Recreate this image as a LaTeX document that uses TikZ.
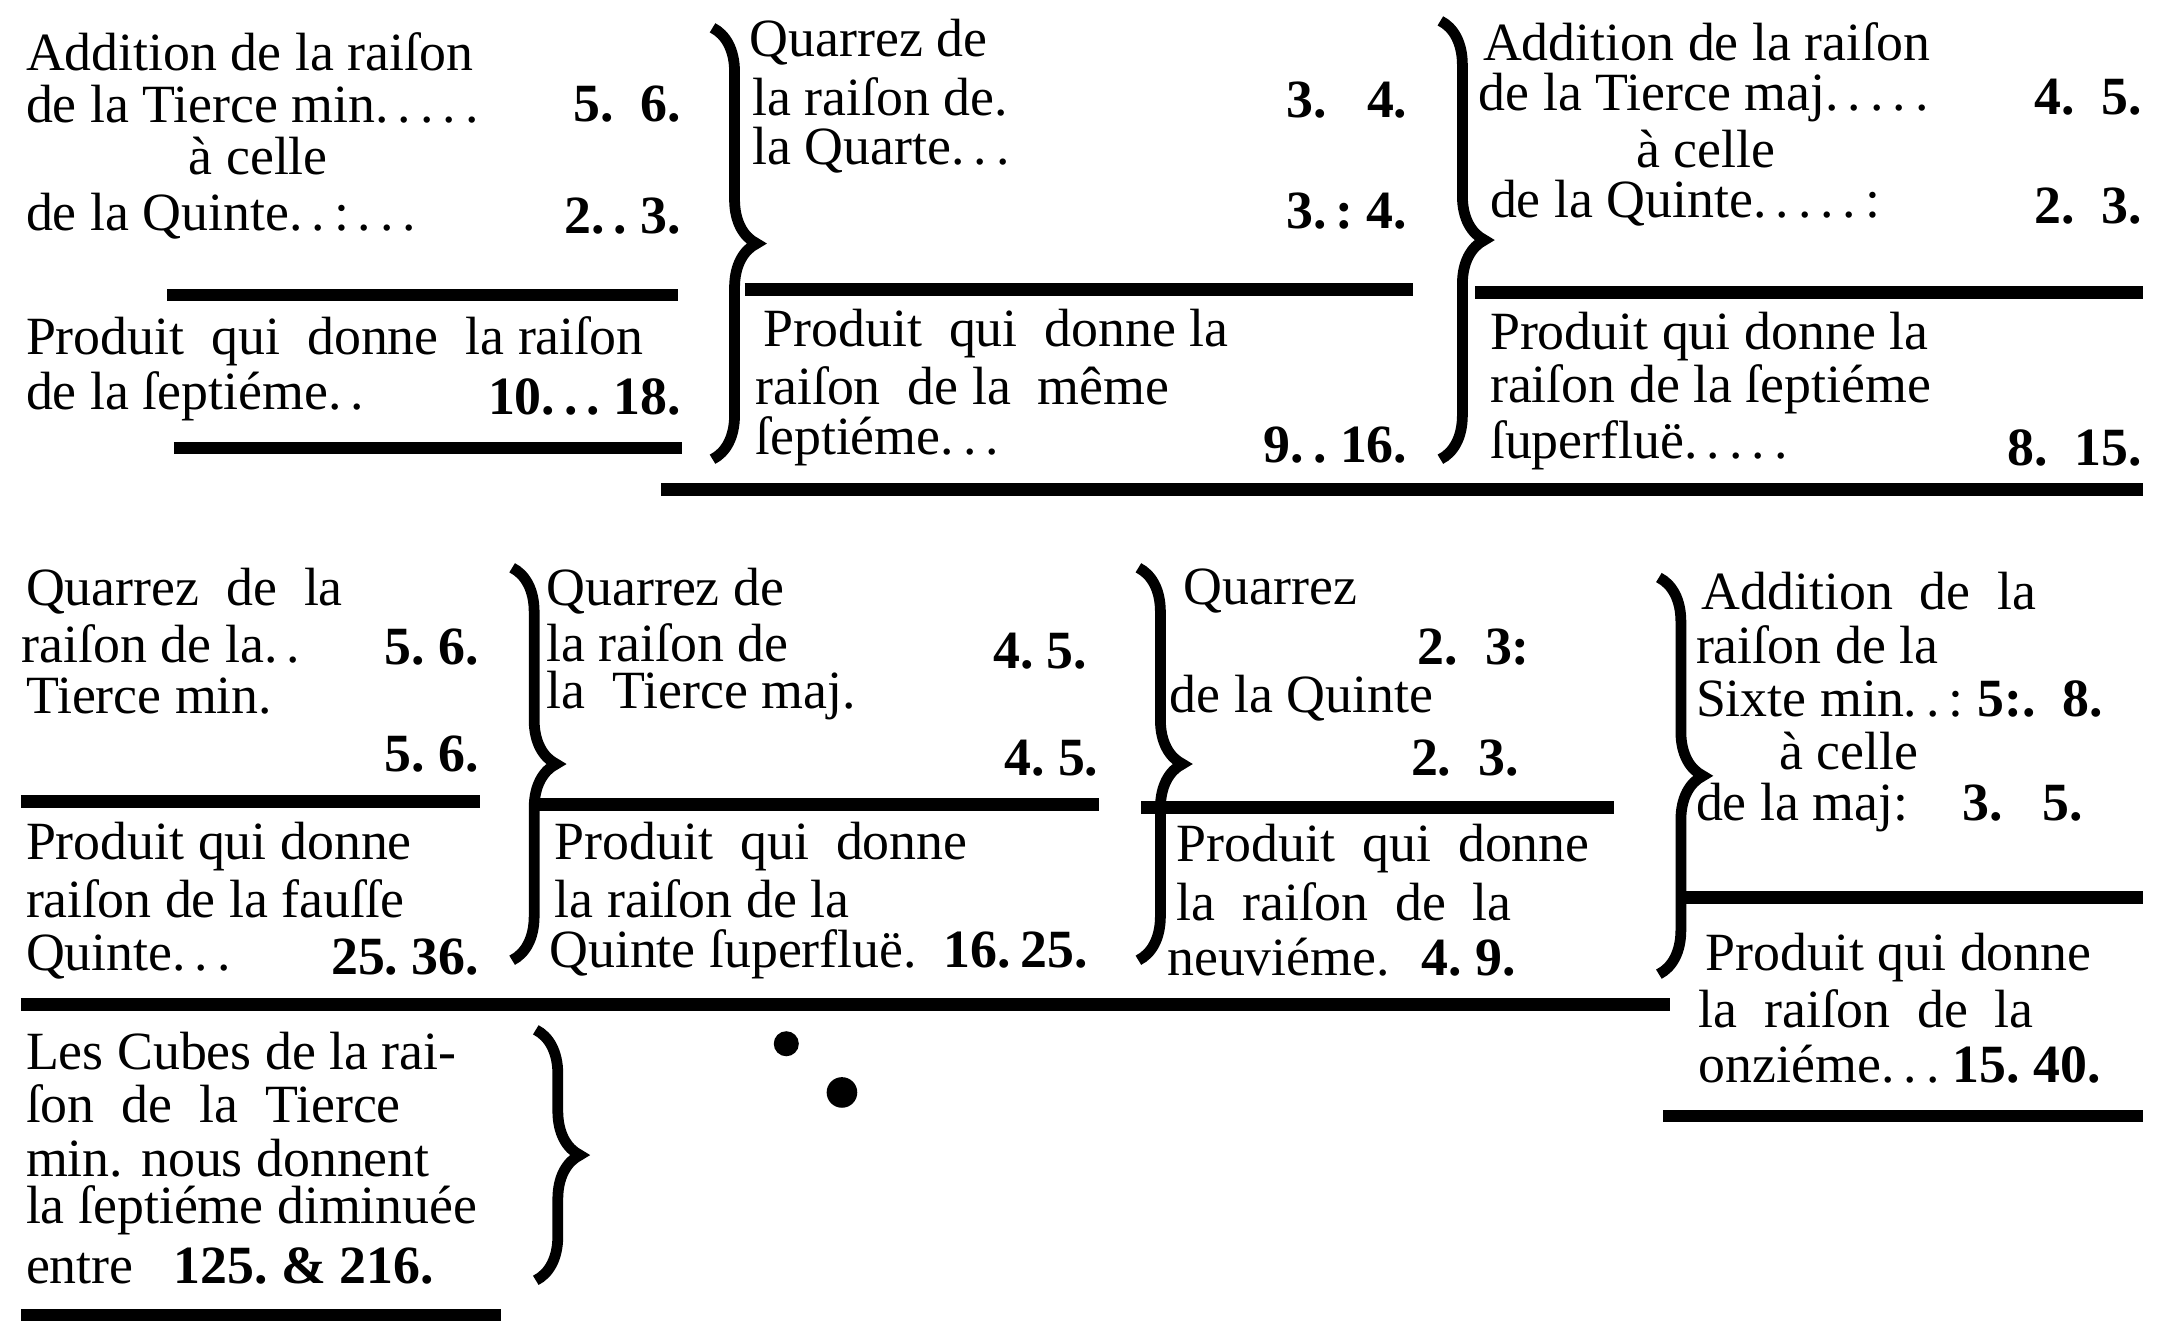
\documentclass[tikz,border=0pt]{standalone}
\usepackage{fontspec}
\setmainfont{Liberation Serif}
\usetikzlibrary{decorations.pathreplacing}

\begin{document}
\begin{tikzpicture}[x=0.01cm, y=-0.01cm,
    txt/.style={anchor=west, inner sep=0pt, font=\fontsize{11}{12}\selectfont},
    num/.style={anchor=east, inner sep=0pt, font=\fontsize{11}{12}\selectfont\bfseries},
    rule/.style={line width=2.6pt, black},
    curly/.style={line width=2.2pt, decorate, decoration={brace, amplitude=9pt}}]
    \useasboundingbox (0,0) rectangle (1560,961);
    % first row, left block: Tierce min. + Quinte
    \node[txt] (a1) at (18,37)  {Addition de la raiſon};
    \node[txt] (a2) at (18,75)  {de la Tierce min.\,.\,.\,.\,.};
    \node[num] (a2n) at (490,75) {5.\ \ 6.};
    \node[txt] (a3) at (135,112) {à celle};
    \node[txt] (a4) at (18,155) {de la Quinte.\,.\,:\,.\,.\,.};
    \node[num] (a4n) at (490,155) {2.\,.\ 3.};
    \draw[rule] (120,212) -- (487,212);
    \node[txt] (a5) at (18,245) {Produit \ qui \ donne \ la raiſon};
    \node[txt] (a6) at (18,285) {de la ſeptiéme.\,.};
    \node[num] (a6n) at (490,285) {10.\,.\,.\ 18.};
    \draw[rule] (125,322) -- (490,322);
    \draw[curly] (512,20) -- (512,330);
    % first row, middle block: Quarrez de la Quarte
    \node[txt] (b1) at (538,30)  {Quarrez de};
    \node[txt] (b2) at (540,70)  {la raiſon de.};
    \node[num] (b2n) at (1012,72) {3.\ \ \ 4.};
    \node[txt] (b3) at (540,108) {la Quarte.\,.\,.};
    \node[num] (b4n) at (1012,152) {3.\,:\ 4.};
    \draw[rule] (535,208) -- (1015,208);
    \node[txt] (b5) at (548,240) {Produit \ qui \ donne la};
    \node[txt] (b6) at (542,277) {raiſon \ de la \ même};
    \node[txt] (b7) at (542,317) {ſeptiéme.\,.\,.};
    \node[num] (b7n) at (1012,320) {9.\,.\ 16.};
    \draw[rule] (475,352) -- (1540,352);
    \draw[curly] (1035,15) -- (1035,330);
    % first row, right block: Tierce maj. + Quinte
    \node[txt] (c1) at (1065,30)  {Addition de la raiſon};
    \node[txt] (c2) at (1062,70)  {de la Tierce maj.\,.\,.\,.\,.};
    \node[num] (c2n) at (1540,70) {4.\ \ 5.};
    \node[txt] (c3) at (1175,107) {à celle};
    \node[txt] (c4) at (1070,146) {de la Quinte.\,.\,.\,.\,.\,:};
    \node[num] (c4n) at (1540,148) {2.\ \ 3.};
    \draw[rule] (1060,210) -- (1540,210);
    \node[txt] (c5) at (1070,242) {Produit qui donne la};
    \node[txt] (c6) at (1070,280) {raiſon de la ſeptiéme};
    \node[txt] (c7) at (1070,320) {ſuperfluë.\,.\,.\,.\,.};
    \node[num] (c7n) at (1540,322) {8.\ \ 15.};
    % second row: Quarrez de la Tierce min.
    \node[txt] (d1) at (18,425) {Quarrez \ de \ la};
    \node[txt] (d2) at (15,463) {raiſon de la.\,.};
    \node[num] (d2n) at (345,465) {5.\ 6.};
    \node[txt] (d3) at (18,500) {Tierce min.};
    \node[num] (d4n) at (345,542) {5.\ 6.};
    \draw[rule] (15,576) -- (345,576);
    \node[txt] (d5) at (18,608) {Produit qui donne};
    \node[txt] (d6) at (18,646) {raiſon de la fauſſe};
    \node[txt] (d7) at (18,688) {Quinte.\,.\,.};
    \node[num] (d7n) at (345,688) {25.\ 36.};
    \draw[rule] (15,722) -- (1200,722);
    \draw[curly] (368,408) -- (368,690);
    % Quarrez de la Tierce maj.
    \node[txt] (e1) at (392,425) {Quarrez de};
    \node[txt] (e2) at (392,462) {la raiſon de};
    \node[num] (e2n) at (782,468) {4.\ 5.};
    \node[txt] (e3) at (392,500) {la \ Tierce maj.};
    \node[num] (e4n) at (790,545) {4.\ 5.};
    \draw[rule] (385,578) -- (790,578);
    \node[txt] (e5) at (398,608) {Produit \ qui \ donne};
    \node[txt] (e6) at (398,646) {la raiſon de la};
    \node[txt] (e7) at (394,686) {Quinte ſuperfluë.\ \ \textbf{16.\,25.}};
    \draw[curly] (818,408) -- (818,690);
    % Quarrez de la Quinte
    \node[txt] (f1) at (850,425) {Quarrez};
    \node[num] (f2n) at (1100,465) {2.\ \ 3:};
    \node[txt] (f3) at (840,502) {de la Quinte};
    \node[num] (f4n) at (1092,545) {2.\ \ 3.};
    \draw[rule] (820,580) -- (1160,580);
    \node[txt] (f5) at (845,610) {Produit \ qui \ donne};
    \node[txt] (f6) at (845,648) {la \ raiſon \ de \ la};
    \node[txt] (f7) at (838,688) {neuviéme. \ \textbf{4.\ 9.}};
    \draw[curly] (1192,415) -- (1192,700);
    % Sixte min. + Sixte maj.
    \node[txt] (g1) at (1222,425) {Addition \ de \ la};
    \node[txt] (g2) at (1218,463) {raiſon de la};
    \node[txt] (g3) at (1218,502) {Sixte min.\,.\,:\ \textbf{5:.\ \ 8.}};
    \node[txt] (g4) at (1278,540) {à celle};
    \node[txt] (g5) at (1218,580) {de la maj:\ \ \ \ \textbf{3.\ \ \ 5.}};
    \draw[rule] (1210,645) -- (1540,645);
    \node[txt] (g6) at (1225,688) {Produit qui donne};
    \node[txt] (g7) at (1220,725) {la \ raiſon \ de \ la};
    \node[txt] (g8) at (1220,765) {onziéme.\,.\,.\ \textbf{15.\ 40.}};
    \draw[rule] (1195,802) -- (1540,802);
    % Cubes de la Tierce min.
    \node[txt] (h1) at (18,755) {Les Cubes de la rai-};
    \node[txt] (h2) at (18,793) {ſon \ de \ la \ Tierce};
    \node[txt] (h3) at (18,832) {min. nous donnent};
    \node[txt] (h4) at (18,870) {la ſeptiéme diminuée};
    \node[txt] (h5) at (18,910) {entre \ \ \textbf{125.\ \& 216.}};
    \draw[curly] (385,740) -- (385,920);
    \draw[rule] (15,945) -- (360,945);
    % ink blots
    \fill (565,750) circle (9);
    \fill (605,785) circle (11);
\end{tikzpicture}
\end{document}
